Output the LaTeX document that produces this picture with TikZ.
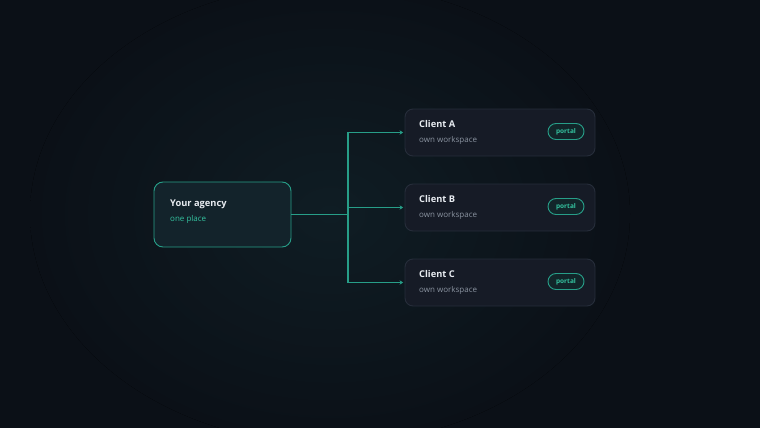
\documentclass[tikz,border=0pt]{standalone}
\usepackage{fontspec}
\setmainfont{Open Sans}
\usetikzlibrary{arrows.meta}
\definecolor{bgdark}{HTML}{0B1017}
\definecolor{bgglow}{HTML}{0F1D24}
\definecolor{teal}{HTML}{279E88}
\definecolor{tealtext}{HTML}{34C3A0}
\definecolor{agencyfill}{HTML}{13232B}
\definecolor{clientfill}{HTML}{161B26}
\definecolor{clientline}{HTML}{262D3A}
\definecolor{pillfill}{HTML}{12262A}
\definecolor{titletext}{HTML}{E8ECF1}
\definecolor{subtext}{HTML}{8A93A0}
\tikzset{
  agencybox/.style={draw=teal,fill=agencyfill,line width=0.9pt,rounded corners=9pt,minimum width=137pt,minimum height=65pt},
  clientbox/.style={draw=clientline,fill=clientfill,line width=0.9pt,rounded corners=8pt,minimum width=190pt,minimum height=47pt},
  pill/.style={draw=teal,fill=pillfill,line width=0.9pt,rounded corners=8pt,minimum width=36pt,minimum height=16pt,inner sep=0pt,text=tealtext,font=\fontsize{6.5}{8}\selectfont\bfseries},
  title/.style={anchor=west,inner sep=0pt,text=titletext,font=\fontsize{9.3}{11}\selectfont\bfseries},
  sub/.style={anchor=west,inner sep=0pt,font=\fontsize{8}{10}\selectfont},
  link/.style={draw=teal,line width=1.1pt,-{Stealth[length=3.5pt,width=4.5pt]}}
}
\begin{document}
\begin{tikzpicture}[x=1pt,y=-1pt]
        %% background
        \useasboundingbox (0,0) rectangle (760,428);
        \clip (0,0) rectangle (760,428);
        \fill[bgdark] (0,0) rectangle (760,428);
        \fill[inner color=bgglow,outer color=bgdark] (330,214) ellipse (300 and 230);
        %% agency
        \node[agencybox] (agency) at (222.5,214.5) {};
        \node[title] (agencyname) at (170,204) {Your agency};
        \node[sub,text=tealtext] (agencysub) at (170,219) {one place};
        %% clients
        \coordinate (split) at (348,214.5);
        \draw[teal,line width=1.1pt] (agency.east) -- (split);
        \foreach \name/\y in {A/132.5,B/207.5,C/282.5}{
          \node[clientbox] (client\name) at (500,\y) {};
          \node[title] at (419,\y-8) {Client \name};
          \node[sub,text=subtext] at (419,\y+8) {own workspace};
          \node[pill] (portal\name) at (566,\y-1) {portal};
          \draw[link,shorten >=1.5pt] (split) |- (client\name.west);
        }
    \end{tikzpicture}
\end{document}
